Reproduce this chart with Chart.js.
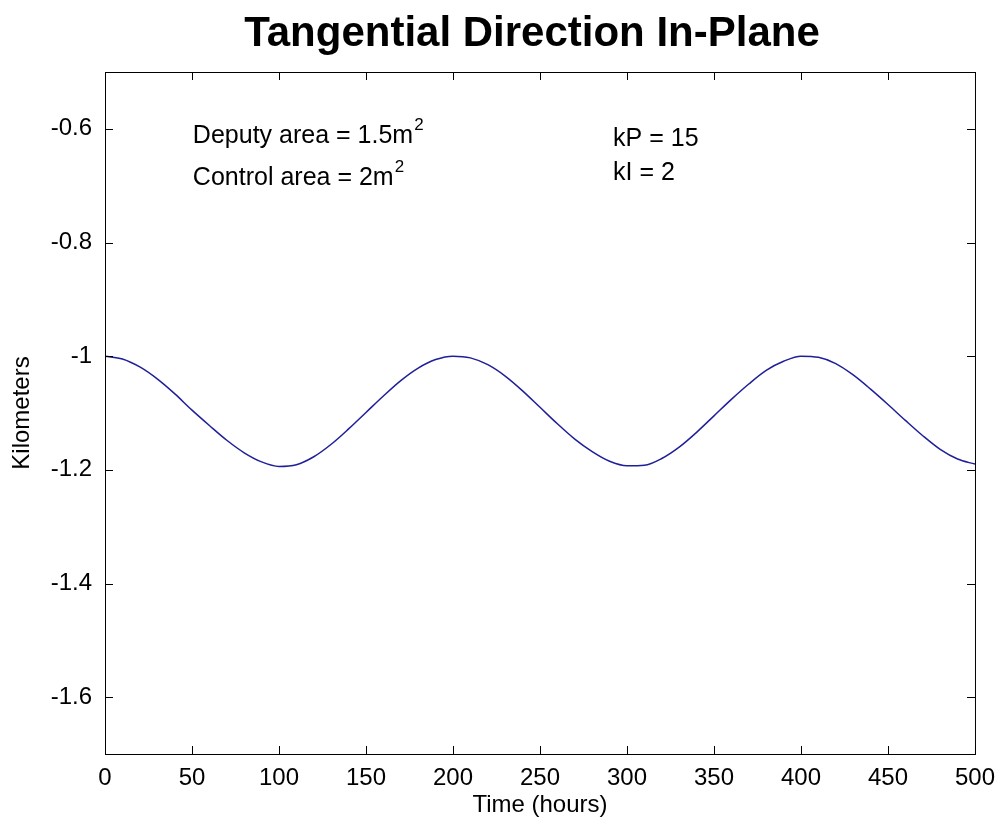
<!DOCTYPE html>
<html>
<head>
<meta charset="utf-8">
<script src="https://cdn.jsdelivr.net/npm/chart.js@4/dist/chart.umd.min.js"></script>
<style>
  html, body { margin: 0; padding: 0; background: #fff; }
  #wrap { width: 997px; height: 826px; }
</style>
</head>
<body>
<div id="wrap"><canvas id="c"></canvas></div>
<script>
// time in hours, position in km
const hours = [0, 10, 20, 30, 40, 50, 60, 70, 80, 90, 100, 110, 120, 130, 140, 150, 160, 170, 180, 190,
  200, 210, 220, 230, 240, 250, 260, 270, 280, 290, 300, 310, 320, 330, 340, 350, 360, 370, 380, 390,
  400, 410, 420, 430, 440, 450, 460, 470, 480, 490, 500];
const km = [-1.000, -1.005, -1.019, -1.040, -1.066, -1.095, -1.122, -1.148, -1.170, -1.186, -1.194, -1.191,
  -1.177, -1.155, -1.128, -1.099, -1.070, -1.043, -1.021, -1.006, -1.000, -1.003, -1.015, -1.035, -1.061,
  -1.090, -1.119, -1.146, -1.168, -1.185, -1.193, -1.192, -1.180, -1.160, -1.134, -1.105, -1.076, -1.049,
  -1.025, -1.009, -1.000, -1.002, -1.013, -1.033, -1.058, -1.085, -1.113, -1.140, -1.164, -1.181, -1.190];
const xTicks = [0, 50, 100, 150, 200, 250, 300, 350, 400, 450, 500];
const yTicks = [-1.6, -1.4, -1.2, -1, -0.8, -0.6];

const TITLE = 'Tangential Direction In-Plane';
const FONT = "'Liberation Sans', Arial, sans-serif";

// MATLAB style box with inward ticks, title and the text notes
const boxPlugin = {
  id: 'box',
  afterDraw(chart) {
    const { ctx, chartArea: a, scales } = chart;
    ctx.save();
    ctx.strokeStyle = '#000';
    ctx.lineWidth = 1;
    ctx.strokeRect(a.left + 0.5, a.top + 0.5, a.right - a.left, a.bottom - a.top);
    ctx.beginPath();
    const len = 8;
    scales.x.ticks.forEach((t, i) => {
      const px = Math.round(scales.x.getPixelForTick(i)) + 0.5;
      ctx.moveTo(px, a.bottom); ctx.lineTo(px, a.bottom - len);
      ctx.moveTo(px, a.top); ctx.lineTo(px, a.top + len);
    });
    scales.y.ticks.forEach((t, i) => {
      const py = Math.round(scales.y.getPixelForTick(i)) + 0.5;
      ctx.moveTo(a.left, py); ctx.lineTo(a.left + len, py);
      ctx.moveTo(a.right, py); ctx.lineTo(a.right - len, py);
    });
    ctx.stroke();

    ctx.fillStyle = '#000';
    ctx.textAlign = 'center';
    ctx.textBaseline = 'alphabetic';
    ctx.font = 'bold 42px ' + FONT;
    ctx.fillText(TITLE, (a.left + a.right) / 2 - 8, 46);

    ctx.textAlign = 'left';
    ctx.textBaseline = 'middle';
    const note = (tx, ty, main, sup) => {
      const x = scales.x.getPixelForValue(tx);
      const y = scales.y.getPixelForValue(ty);
      ctx.font = '25px ' + FONT;
      ctx.fillText(main, x, y);
      if (sup) {
        const w = ctx.measureText(main).width;
        ctx.font = '17px ' + FONT;
        ctx.fillText(sup, x + w + 1, y - 11);
      }
    };
    note(50.5, -0.613, 'Deputy area = 1.5m', '2');
    note(50.5, -0.687, 'Control area = 2m', '2');
    note(292, -0.618, 'kP = 15');
    note(292, -0.678, 'kI = 2');
    ctx.restore();
  }
};

new Chart(document.getElementById('c'), {
  type: 'line',
  data: {
    datasets: [{
      data: hours.map((h, i) => ({ x: h, y: km[i] })),
      borderColor: '#1f1f99',
      borderWidth: 1.5,
      pointRadius: 0,
      cubicInterpolationMode: 'monotone',
      fill: false
    }]
  },
  options: {
    responsive: true,
    maintainAspectRatio: false,
    animation: false,
    layout: { padding: { left: 0, right: 20, top: 72, bottom: 0 } },
    plugins: {
      legend: { display: false },
      tooltip: { enabled: false },
      title: { display: false }
    },
    scales: {
      x: {
        type: 'linear',
        min: 0,
        max: 500,
        afterFit: s => { s.height = 72; },
        afterBuildTicks: s => { s.ticks = xTicks.map(v => ({ value: v })); },
        grid: { display: false },
        border: { display: false },
        ticks: { color: '#000', font: { family: FONT, size: 24 }, padding: 2, maxRotation: 0, autoSkip: false },
        title: { display: true, text: 'Time (hours)', color: '#000', font: { family: FONT, size: 24 }, padding: { top: 0, bottom: 6 } }
      },
      y: {
        min: -1.7,
        max: -0.5,
        afterFit: s => { s.width = 105; },
        afterBuildTicks: s => { s.ticks = yTicks.map(v => ({ value: v })); },
        grid: { display: false },
        border: { display: false },
        ticks: { color: '#000', font: { family: FONT, size: 24 }, padding: 5, autoSkip: false,
          callback: v => String(+v.toFixed(2)) },
        title: { display: true, text: 'Kilometers', color: '#000', font: { family: FONT, size: 24 }, padding: { top: 8, bottom: 0 } }
      }
    }
  },
  plugins: [boxPlugin]
});
</script>
</body>
</html>
